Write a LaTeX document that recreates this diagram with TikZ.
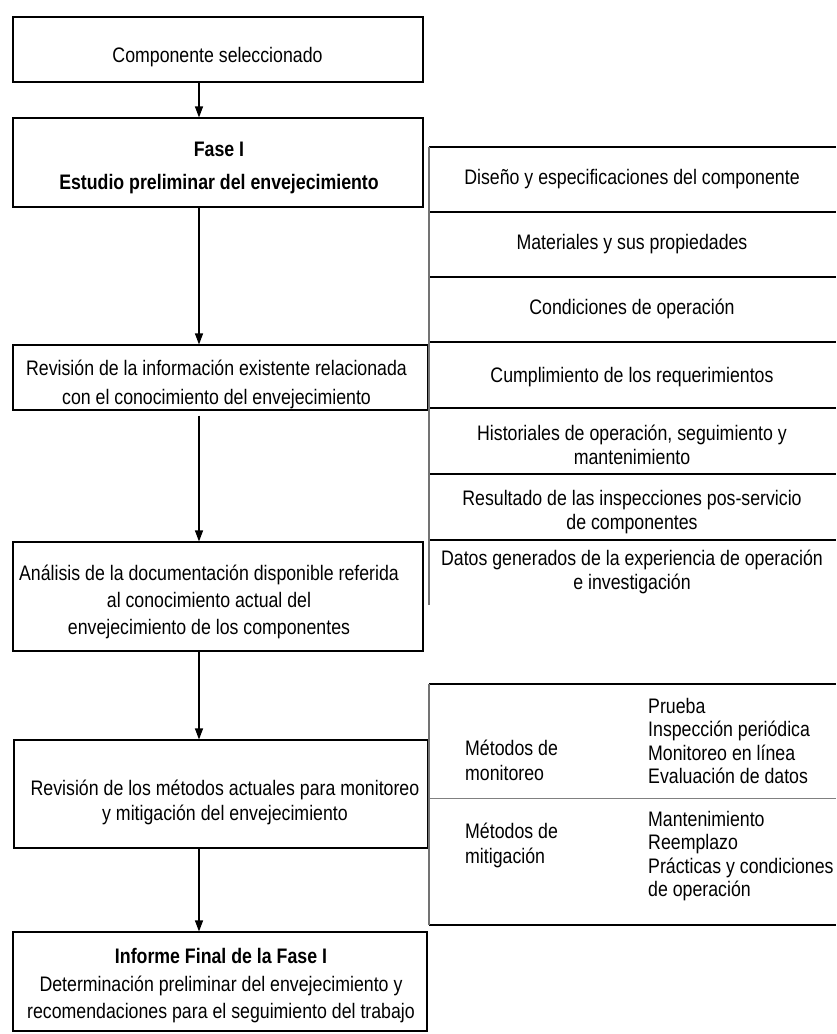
\documentclass[tikz,border=0pt]{standalone}
\usepackage{fontspec}
\setmainfont{Liberation Sans}[FakeStretch=0.845]
\usetikzlibrary{arrows.meta}
\begin{document}
\begin{tikzpicture}[x=1pt,y=-1pt,
  box/.style={draw=black, line width=1.1pt, rectangle, inner sep=0pt},
  txt/.style={align=center, inner sep=0pt, font=\fontsize{21}{27}\selectfont},
  ltxt/.style={align=left, anchor=west, inner sep=0pt, font=\fontsize{21}{23.5}\selectfont},
  arr/.style={line width=1.1pt, -{Triangle[length=11pt,width=8pt]}},
  tvert/.style={draw=black!55, line width=1.6pt},
  thor/.style={draw=black, line width=1.2pt},
  tdiv/.style={draw=black!50, line width=1pt}
]
\fill[white] (0,0) rectangle (836,1034);
\useasboundingbox (0,0) rectangle (836,1034);

% left column boxes
\node[box, minimum width=410pt, minimum height=65pt] (b1) at (218,49.5) {};
\node[txt] (t1) at (217.5,57) {Componente seleccionado};

\node[box, minimum width=410pt, minimum height=89pt] (b2) at (218,162.5) {};
\node[txt, font=\bfseries\fontsize{21}{33}\selectfont] (t2) at (219,168) {Fase I\\Estudio preliminar del envejecimiento};

\node[box, minimum width=415pt, minimum height=65pt] (b3) at (220.5,377.5) {};
\node[txt, font=\fontsize{21}{29}\selectfont] (t3) at (216.5,384) {Revisión de la información existente relacionada\\con el conocimiento del envejecimiento};

\node[box, minimum width=410pt, minimum height=109pt] (b4) at (218,596.5) {};
\node[txt] (t4) at (209,601.5) {Análisis de la documentación disponible referida\\al conocimiento actual del\\envejecimiento de los componentes};

\node[box, minimum width=414pt, minimum height=108pt] (b5) at (221,794) {};
\node[txt, font=\fontsize{21}{25}\selectfont] (t5) at (225,802) {Revisión de los métodos actuales para monitoreo\\y mitigación del envejecimiento};

\node[box, minimum width=414pt, minimum height=99pt] (b6) at (220,981.5) {};
\node[txt, font=\fontsize{21}{27.5}\selectfont] (t6) at (221,986) {\textbf{Informe Final de la Fase I}\\Determinación preliminar del envejecimiento y\\recomendaciones para el seguimiento del trabajo};

% connectors
\coordinate (ax) at (199,0);
\draw[arr] (b1.south -| ax) -- (b2.north -| ax);
\draw[arr] (b2.south -| ax) -- (b3.north -| ax);
\draw[arr] ([yshift=-5pt]b3.south -| ax) -- (b4.north -| ax);
\draw[arr] (b4.south -| ax) -- (b5.north -| ax);
\draw[arr] (b5.south -| ax) -- (b6.north -| ax);

% upper right table
\foreach \yy in {147,212,277,342,408,474,540} {\draw[thor] (429,\yy) -- (836,\yy);}
\draw[tvert] (429,147) -- (429,605);
\node[txt] (r1) at (632,179) {Diseño y especificaciones del componente};
\node[txt] (r2) at (632,244) {Materiales y sus propiedades};
\node[txt] (r3) at (632,309) {Condiciones de operación};
\node[txt] (r4) at (632,377) {Cumplimiento de los requerimientos};
\node[txt, font=\fontsize{21}{23.5}\selectfont] (r5) at (632,445) {Historiales de operación, seguimiento y\\mantenimiento};
\node[txt, font=\fontsize{21}{24.5}\selectfont] (r6) at (632,512) {Resultado de las inspecciones pos-servicio\\de componentes};
\node[txt, font=\fontsize{21}{24.5}\selectfont] (r7) at (632,572) {Datos generados de la experiencia de operación\\e investigación};

% lower right table
\draw[thor] (429,684) -- (836,684);
\draw[tdiv] (429,798) -- (836,798);
\draw[thor] (429,925) -- (836,925);
\draw[tvert] (429,684) -- (429,925);
\node[ltxt, font=\fontsize{21}{25}\selectfont] (m1) at (465,760) {Métodos de\\monitoreo};
\node[ltxt, font=\fontsize{21}{25}\selectfont] (m2) at (465,845) {Métodos de\\mitigación};
\node[ltxt] (l1) at (648,741) {Prueba\\Inspección periódica\\Monitoreo en línea\\Evaluación de datos};
\node[ltxt] (l2) at (648,856) {Mantenimiento\\Reemplazo\\Prácticas y condiciones\\de operación};
\end{tikzpicture}
\end{document}
